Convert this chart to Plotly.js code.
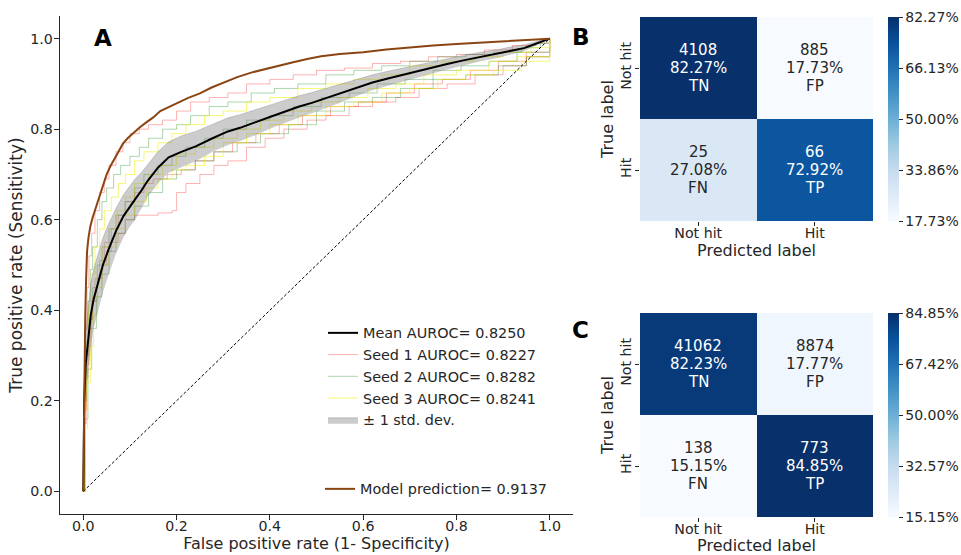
<!DOCTYPE html>
<html><head><meta charset="utf-8">
<script src="https://cdn.plot.ly/plotly-3.0.1.min.js"></script>
<style>html,body{margin:0;padding:0;background:#fff}#chart{width:961px;height:555px}</style>
</head><body><div id="chart"></div>
<script>
// ---- Panel A: ROC data ----
const meanFpr = [0,0.002,0.005,0.011,0.016,0.022,0.032,0.042,0.054,0.07,0.086,0.1,0.111,0.125,0.138,0.16,0.183,0.21,0.241,0.277,0.31,0.336,0.37,0.40,0.43,0.463,0.49,0.519,0.555,0.59,0.62,0.653,0.68,0.709,0.745,0.78,0.815,0.852,0.89,0.923,0.945,0.963,0.98,1];
const meanTpr = [0,0.2,0.28,0.35,0.39,0.424,0.461,0.5,0.534,0.575,0.608,0.63,0.645,0.665,0.686,0.715,0.738,0.75,0.762,0.78,0.795,0.803,0.815,0.827,0.838,0.85,0.858,0.868,0.88,0.893,0.903,0.912,0.919,0.927,0.935,0.944,0.952,0.96,0.967,0.975,0.979,0.986,0.992,1];
const upperTpr = [0,0.27,0.35,0.42,0.46,0.49,0.525,0.56,0.59,0.625,0.655,0.675,0.69,0.705,0.722,0.75,0.772,0.785,0.795,0.81,0.825,0.832,0.843,0.853,0.863,0.874,0.881,0.89,0.9,0.911,0.92,0.928,0.934,0.941,0.948,0.956,0.963,0.97,0.976,0.983,0.986,0.991,0.996,1];
const lowerTpr = [0,0.13,0.21,0.28,0.32,0.36,0.4,0.44,0.478,0.525,0.561,0.585,0.6,0.625,0.65,0.68,0.704,0.716,0.729,0.75,0.765,0.774,0.787,0.801,0.813,0.826,0.835,0.846,0.86,0.875,0.886,0.896,0.904,0.913,0.922,0.932,0.941,0.95,0.958,0.967,0.972,0.981,0.988,1];

const modelFpr = [0,0.001,0.002,0.004,0.006,0.008,0.011,0.015,0.02,0.026,0.032,0.04,0.05,0.058,0.066,0.075,0.085,0.095,0.108,0.12,0.135,0.15,0.165,0.18,0.2,0.225,0.25,0.275,0.3,0.33,0.36,0.39,0.42,0.45,0.48,0.51,0.55,0.6,0.65,0.7,0.75,0.8,0.85,0.9,0.95,1];
const modelTpr = [0,0.12,0.25,0.38,0.47,0.53,0.56,0.585,0.605,0.625,0.642,0.668,0.7,0.718,0.733,0.75,0.768,0.78,0.793,0.803,0.815,0.826,0.84,0.848,0.857,0.869,0.879,0.892,0.903,0.915,0.925,0.933,0.94,0.948,0.955,0.961,0.966,0.97,0.976,0.981,0.985,0.988,0.991,0.995,0.998,1];

const seed1aFpr = [0,0.002,0.006,0.01,0.015,0.02,0.03,0.04,0.05,0.06,0.075,0.09,0.11,0.13,0.16,0.19,0.2,0.22,0.25,0.28,0.31,0.35,0.39,0.43,0.48,0.52,0.57,0.62,0.67,0.72,0.78,0.84,0.9,0.95,1];
const seed1aTpr = [0,0.15,0.25,0.32,0.38,0.42,0.47,0.5,0.53,0.55,0.57,0.6,0.61,0.61,0.615,0.62,0.66,0.68,0.7,0.72,0.73,0.76,0.78,0.8,0.82,0.83,0.85,0.86,0.87,0.89,0.9,0.92,0.94,0.96,1];
const seed1bFpr = [0,0.002,0.005,0.008,0.012,0.018,0.025,0.035,0.045,0.055,0.07,0.085,0.1,0.12,0.14,0.17,0.2,0.23,0.27,0.31,0.35,0.4,0.45,0.5,0.56,0.62,0.68,0.74,0.8,0.86,0.92,0.97,1];
const seed1bTpr = [0,0.25,0.36,0.45,0.52,0.57,0.62,0.66,0.69,0.72,0.75,0.77,0.79,0.8,0.81,0.82,0.84,0.86,0.87,0.88,0.9,0.91,0.92,0.93,0.935,0.945,0.95,0.96,0.965,0.975,0.985,0.99,1];
const seed1cFpr = [0,0.003,0.007,0.012,0.018,0.025,0.035,0.045,0.06,0.075,0.09,0.11,0.13,0.15,0.18,0.21,0.24,0.28,0.32,0.37,0.42,0.47,0.53,0.59,0.65,0.71,0.77,0.83,0.89,0.95,1];
const seed1cTpr = [0,0.18,0.28,0.36,0.42,0.47,0.51,0.55,0.58,0.61,0.64,0.66,0.68,0.69,0.7,0.71,0.73,0.75,0.77,0.79,0.81,0.83,0.85,0.86,0.88,0.9,0.91,0.93,0.95,0.97,1];
const seed2aFpr = [0,0.002,0.005,0.01,0.015,0.02,0.03,0.04,0.05,0.065,0.08,0.1,0.12,0.14,0.17,0.2,0.23,0.27,0.31,0.36,0.41,0.46,0.52,0.58,0.64,0.7,0.76,0.82,0.88,0.94,0.98,1];
const seed2aTpr = [0,0.22,0.33,0.42,0.49,0.54,0.6,0.64,0.67,0.7,0.72,0.74,0.76,0.78,0.8,0.81,0.83,0.85,0.86,0.88,0.89,0.9,0.92,0.93,0.94,0.95,0.96,0.965,0.97,0.98,0.99,1];
const seed2bFpr = [0,0.003,0.007,0.012,0.02,0.03,0.04,0.055,0.07,0.09,0.11,0.13,0.16,0.19,0.22,0.26,0.3,0.35,0.4,0.45,0.51,0.57,0.63,0.69,0.75,0.81,0.87,0.93,1];
const seed2bTpr = [0,0.2,0.3,0.38,0.45,0.5,0.54,0.58,0.61,0.64,0.67,0.7,0.72,0.74,0.76,0.78,0.8,0.82,0.83,0.85,0.87,0.88,0.9,0.91,0.93,0.94,0.95,0.97,1];
const seed2cFpr = [0,0.004,0.01,0.018,0.028,0.04,0.055,0.07,0.09,0.11,0.14,0.17,0.2,0.24,0.28,0.33,0.38,0.44,0.5,0.56,0.62,0.68,0.75,0.82,0.89,0.95,1];
const seed2cTpr = [0,0.16,0.27,0.36,0.43,0.48,0.53,0.57,0.6,0.63,0.66,0.69,0.71,0.73,0.75,0.77,0.79,0.81,0.84,0.86,0.87,0.89,0.91,0.92,0.94,0.96,1];
const seed3aFpr = [0,0.004,0.009,0.015,0.022,0.03,0.04,0.055,0.07,0.09,0.11,0.135,0.16,0.19,0.22,0.26,0.3,0.35,0.4,0.46,0.52,0.58,0.64,0.7,0.76,0.82,0.88,0.94,1];
const seed3aTpr = [0,0.14,0.24,0.32,0.39,0.45,0.5,0.54,0.58,0.61,0.64,0.67,0.69,0.71,0.72,0.74,0.77,0.79,0.81,0.83,0.85,0.86,0.88,0.89,0.91,0.92,0.93,0.95,1];
const seed3bFpr = [0,0.002,0.006,0.011,0.017,0.025,0.035,0.045,0.06,0.075,0.09,0.11,0.13,0.16,0.19,0.22,0.26,0.3,0.35,0.4,0.46,0.52,0.58,0.64,0.7,0.77,0.84,0.9,0.96,1];
const seed3bTpr = [0,0.22,0.33,0.41,0.48,0.54,0.58,0.62,0.65,0.68,0.7,0.73,0.75,0.77,0.79,0.81,0.83,0.84,0.86,0.87,0.89,0.9,0.91,0.92,0.94,0.95,0.96,0.97,0.98,1];
const seed3cFpr = [0,0.003,0.008,0.014,0.02,0.03,0.042,0.056,0.072,0.09,0.11,0.14,0.17,0.2,0.24,0.28,0.33,0.38,0.43,0.49,0.55,0.61,0.67,0.73,0.8,0.87,0.93,1];
const seed3cTpr = [0,0.18,0.29,0.37,0.43,0.49,0.54,0.58,0.62,0.65,0.68,0.7,0.72,0.745,0.76,0.78,0.8,0.82,0.84,0.86,0.87,0.89,0.9,0.92,0.93,0.95,0.96,1];

const chanceLine = [0,1];
const rocTicks = [0.0,0.2,0.4,0.6,0.8,1.0];

// ---- Panels B and C: confusion matrices ----
const labels = ['Not hit','Hit'];
const cellTags = [['TN','FP'],['FN','TP']];
const countsB = [[4108,885],[25,66]];
const pctB = [[82.27,17.73],[27.08,72.92]];
const cbTicksB = [17.73,33.86,50.00,66.13,82.27];
const countsC = [[41062,8874],[138,773]];
const pctC = [[82.23,17.77],[15.15,84.85]];
const cbTicksC = [15.15,32.57,50.00,67.42,84.85];

const blues = [[0,'#f7fbff'],[0.125,'#deebf7'],[0.25,'#c6dbef'],[0.375,'#9ecae1'],[0.5,'#6baed6'],[0.625,'#4292c6'],[0.75,'#2171b5'],[0.875,'#08519c'],[1,'#08306b']];
const FONT = 'DejaVu Sans, sans-serif';
const DARK = '#262626';
const W = 961, H = 555;
const px = v => v / W, py = v => 1 - v / H;

const traces = [];
const RED = 'rgba(255,0,0,0.3)', GREEN = 'rgba(0,128,0,0.32)', YEL = 'rgba(240,240,0,0.55)';
const seeds = [
  {x: seed1aFpr, y: seed1aTpr, c: RED, name: 'Seed 1 AUROC= 0.8227', show: true, rank: 2},
  {x: seed1bFpr, y: seed1bTpr, c: RED, show: false},
  {x: seed1cFpr, y: seed1cTpr, c: RED, show: false},
  {x: seed2aFpr, y: seed2aTpr, c: GREEN, name: 'Seed 2 AUROC= 0.8282', show: true, rank: 3},
  {x: seed2bFpr, y: seed2bTpr, c: GREEN, show: false},
  {x: seed2cFpr, y: seed2cTpr, c: GREEN, show: false},
  {x: seed3aFpr, y: seed3aTpr, c: YEL, name: 'Seed 3 AUROC= 0.8241', show: true, rank: 4},
  {x: seed3bFpr, y: seed3bTpr, c: YEL, show: false},
  {x: seed3cFpr, y: seed3cTpr, c: YEL, show: false}
];
seeds.forEach(s => traces.push({type:'scatter', mode:'lines', x:s.x, y:s.y, xaxis:'x', yaxis:'y',
  line:{color:s.c, width:1, shape:'hv'}, name:s.name||'', showlegend:s.show, legendrank:s.rank||100, hoverinfo:'skip'}));

traces.push({type:'scatter', mode:'lines', x:meanFpr, y:lowerTpr, xaxis:'x', yaxis:'y', line:{width:0, color:'rgba(128,128,128,0.4)'}, showlegend:false, hoverinfo:'skip'});
traces.push({type:'scatter', mode:'lines', x:meanFpr, y:upperTpr, xaxis:'x', yaxis:'y', fill:'tonexty', fillcolor:'rgba(128,128,128,0.4)',
  line:{width:0.6, color:'rgba(110,110,110,0.5)'}, name:'± 1 std. dev.', legendrank:5, hoverinfo:'skip'});
traces.push({type:'scatter', mode:'lines', x:chanceLine, y:chanceLine, xaxis:'x', yaxis:'y', line:{color:'#000', width:1, dash:'3px,2px'}, showlegend:false, hoverinfo:'skip'});
traces.push({type:'scatter', mode:'lines', x:meanFpr, y:meanTpr, xaxis:'x', yaxis:'y', line:{color:'#000', width:2}, name:'Mean AUROC= 0.8250', legendrank:1});
traces.push({type:'scatter', mode:'lines', x:modelFpr, y:modelTpr, xaxis:'x', yaxis:'y', line:{color:'#8B4513', width:2}, name:'Model prediction= 0.9137', legend:'legend2'});

function cm(pct, ticks, xa, ya, yTop) {
  const zmin = ticks[0], zmax = ticks[ticks.length-1];
  traces.push({type:'heatmap', z:pct, x:labels, y:labels, xaxis:xa, yaxis:ya, colorscale:blues, zmin:zmin, zmax:zmax,
    showscale:true, hoverinfo:'skip',
    colorbar:{x:px(888), xanchor:'left', xpad:0, ypad:0, y:py(yTop), yanchor:'top', len:204, lenmode:'pixels', thickness:11, thicknessmode:'pixels',
      outlinewidth:0, tickvals:ticks, ticktext:ticks.map(t => t.toFixed(2)+'%'), ticks:'outside', ticklen:4, tickcolor:DARK,
      tickfont:{family:FONT, size:14, color:DARK}}});
}
cm(pctB, cbTicksB, 'x2', 'y2', 17);
cm(pctC, cbTicksC, 'x3', 'y3', 313);

const annotations = [];
function cellText(counts, pct, ticks, xr, yr) {
  const zmin = ticks[0], zmax = ticks[ticks.length-1];
  for (let i = 0; i < 2; i++) for (let j = 0; j < 2; j++) {
    const frac = (pct[i][j]-zmin)/(zmax-zmin);
    const lines = [String(counts[i][j]), pct[i][j].toFixed(2) + '%', cellTags[i][j]];
    lines.forEach((t, k) => annotations.push({xref:xr, yref:yr, x:labels[j], y:labels[i], showarrow:false, yshift: 18 - 18*k,
      text: t, font:{family:FONT, size:15, color: frac > 0.5 ? '#ffffff' : DARK}}));
  }
}
cellText(countsB, pctB, cbTicksB, 'x2', 'y2');
cellText(countsC, pctC, cbTicksC, 'x3', 'y3');

[['A',103,38],['B',581,37],['C',580,330]].forEach(p => annotations.push({xref:'paper', yref:'paper', x:px(p[1]), y:py(p[2]),
  xanchor:'center', yanchor:'middle', showarrow:false, text:'<b>'+p[0]+'</b>', font:{family:FONT, size:23, color:'#000'}}));

const tickF = {family:FONT, size:14.2, color:DARK};
const titleF = {family:FONT, size:16, color:DARK};
function cmAxes(yTop, yBot) {
  return [
    {domain:[px(640), px(873)], type:'category', showline:false, showgrid:false, zeroline:false, ticks:'outside', ticklen:4, tickcolor:DARK,
      ticklabelstandoff:-5, tickfont:tickF, title:{text:'Predicted label', font:titleF, standoff:1}, fixedrange:true},
    {domain:[py(yBot), py(yTop)], type:'category', autorange:'reversed', showline:false, showgrid:false, zeroline:false, ticks:'outside', ticklen:4, tickcolor:DARK,
      ticklabelstandoff:-2, tickangle:-90, tickfont:tickF, title:{text:'True label', font:titleF, standoff:0}, fixedrange:true}
  ];
}
const [xb, yb] = cmAxes(17, 221);
const [xc, yc] = cmAxes(313, 517);
xb.anchor = 'y2'; yb.anchor = 'x2'; xc.anchor = 'y3'; yc.anchor = 'x3';

const layout = {
  width: W, height: H, margin:{l:0, r:0, t:0, b:0}, paper_bgcolor:'#fff', plot_bgcolor:'#fff',
  font:{family:FONT, color:DARK},
  xaxis:{domain:[px(60), px(573)], range:[-0.05,1.05], anchor:'y', tickvals:rocTicks, ticktext:rocTicks.map(t=>t.toFixed(1)),
    showline:true, linecolor:DARK, linewidth:1.25, ticks:'outside', ticklen:5, tickwidth:1.25, tickcolor:DARK, showgrid:false, zeroline:false,
    ticklabelstandoff:-6, tickfont:tickF, title:{text:'False positive rate (1- Specificity)', font:titleF, standoff:2}},
  yaxis:{domain:[py(514), py(16)], range:[-0.05,1.05], anchor:'x', tickvals:rocTicks, ticktext:rocTicks.map(t=>t.toFixed(1)),
    showline:true, linecolor:DARK, linewidth:1.25, ticks:'outside', ticklen:5, tickwidth:1.25, tickcolor:DARK, showgrid:false, zeroline:false,
    ticklabelstandoff:-2, tickfont:tickF, title:{text:'True positive rate (Sensitivity)', font:{family:FONT, size:17, color:DARK}, standoff:3}},
  xaxis2: xb, yaxis2: yb, xaxis3: xc, yaxis3: yc,
  legend:{x:px(323), y:py(317), xanchor:'left', yanchor:'top', bgcolor:'rgba(0,0,0,0)', font:{family:FONT, size:14.4, color:DARK}, itemwidth:30, traceorder:'normal'},
  legend2:{x:px(320), y:py(473), xanchor:'left', yanchor:'top', bgcolor:'rgba(0,0,0,0)', font:{family:FONT, size:14.4, color:DARK}, itemwidth:30},
  annotations: annotations,
  showlegend: true
};
Plotly.newPlot('chart', traces, layout, {displayModeBar:false, staticPlot:true});
</script></body></html>
